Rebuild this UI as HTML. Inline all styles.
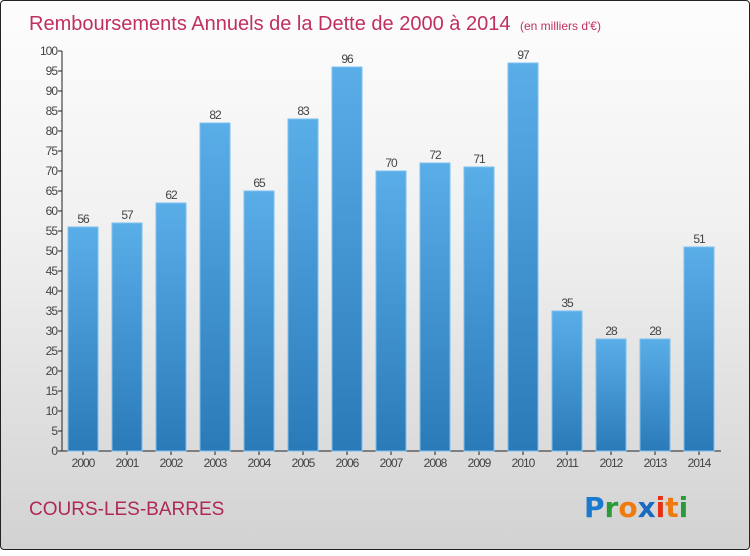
<!DOCTYPE html>
<html><head><meta charset="utf-8"><style>
body{margin:0;width:750px;height:550px;overflow:hidden;font-family:"Liberation Sans",sans-serif}
#wrap{position:absolute;left:0;top:0;width:748px;height:548px;border:1px solid #222;border-radius:4px;background:linear-gradient(#fdfdfd,#f1f1f1 40%,#d2d2d2)}
</style></head><body>
<div id="wrap">
<svg id="chart" width="750" height="550">
<defs><linearGradient id="bg" x1="0" y1="0" x2="0" y2="1"><stop offset="0" stop-color="#5aaee8"/><stop offset="1" stop-color="#2a7ab8"/></linearGradient></defs>
<text x="28" y="29" font-size="20" fill="#c0305f">Remboursements Annuels de la Dette de 2000 à 2014 <tspan font-size="12" dx="4">(en milliers d'€)</tspan></text>
<text x="28" y="514" font-size="19" fill="#b02855">COURS-LES-BARRES</text>
<g font-size="28" font-weight="bold" font-family="DejaVu Sans, sans-serif">
<text x="583" y="516"><tspan fill="#1a7ad0">P</tspan><tspan fill="#2a9a3a">r</tspan><tspan fill="#f07a10">o</tspan><tspan fill="#1a6ac0">x</tspan><tspan fill="#e83010">i</tspan><tspan fill="#f07a10">t</tspan><tspan fill="#2a9a3a">i</tspan></text></g>
<g id="axes"></g><g id="bars"></g>
</svg></div>
<script>
const categories=["2000","2001","2002","2003","2004","2005","2006","2007","2008","2009","2010","2011","2012","2013","2014"];
const values=[56,57,62,82,65,83,96,70,72,71,97,35,28,28,51];
const yTicks=[0,5,10,15,20,25,30,35,40,45,50,55,60,65,70,75,80,85,90,95,100];
const NS="http://www.w3.org/2000/svg";
const y=v=>450-v*4;
const x=i=>82+i*44;
function mk(t,a,p){const e=document.createElementNS(NS,t);for(const k in a)e.setAttribute(k,a[k]);p.appendChild(e);return e;}
const ax=document.getElementById('axes'),bg=document.getElementById('bars');
let l=mk('line',{x1:61,y1:50,x2:61,y2:450,stroke:'#222'},ax);


l=mk('line',{x1:61,y1:450,x2:720,y2:450,stroke:'#222'},ax);


yTicks.forEach(v=>{
 const t=mk('line',{x1:57,x2:61,y1:y(v),y2:y(v),stroke:'#222'},ax);
 
 
 const tx=mk('text',{x:56,y:y(v)+4,'text-anchor':'end','font-size':12,fill:'#444','letter-spacing':'-1'},ax);
 tx.textContent=v;
 
 
});
categories.forEach((c,i)=>{
 const r=mk('rect',{x:x(i)-15,y:y(values[i]),width:30,height:values[i]*4,fill:'url(#bg)',stroke:'#7cc0f0','stroke-width':1},bg);
 
 
 const v=mk('text',{x:x(i),y:y(values[i])-4,'text-anchor':'middle','font-size':12,fill:'#444','letter-spacing':'-1'},bg);
 v.textContent=values[i];
 
 
 const t=mk('line',{x1:x(i),x2:x(i),y1:450,y2:454,stroke:'#222'},ax);
 
 
 const tx=mk('text',{x:x(i),y:466,'text-anchor':'middle','font-size':12,fill:'#444','letter-spacing':'-1'},ax);
 tx.textContent=c;
 
 
});
</script>
</body></html>
